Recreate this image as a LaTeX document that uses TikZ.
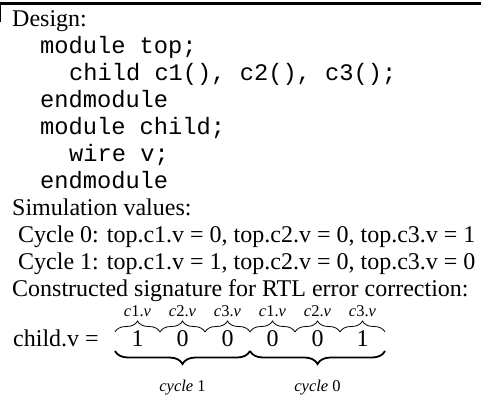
\documentclass[tikz,border=0pt]{standalone}
\usepackage{fontspec}
\setmainfont{Liberation Serif}
\setmonofont{Liberation Mono}
\usetikzlibrary{decorations.pathreplacing}
\begin{document}
\begin{tikzpicture}[x=1pt,y=-1pt,
  txt/.style={anchor=base west, inner sep=0pt, font=\fontsize{24}{24}\selectfont},
  code/.style={anchor=base west, inner sep=0pt, font=\fontsize{23.7}{24}\selectfont\ttfamily},
  lab/.style={anchor=base, inner sep=0pt, font=\fontsize{16.5}{16.5}\selectfont},
  digit/.style={anchor=base, inner sep=0pt, font=\fontsize{24}{24}\selectfont},
  upbrace/.style={decorate, decoration={brace, amplitude=11pt}, line width=0.8pt},
  downbrace/.style={decorate, decoration={brace, amplitude=13pt, mirror}, line width=1.8pt}]
\useasboundingbox (0,0) rectangle (481,405);
\draw[line width=3pt] (0,3.5) -- (481,3.5);
\draw[line width=1pt] (0.5,5) -- (0.5,22);

\node[txt] (design) at (12,26) {Design:};
\node[code] (l1) at (40,53) {module top;};
\node[code] (l2) at (69,80) {child c1(), c2(), c3();};
\node[code] (l3) at (40,107) {endmodule};
\node[code] (l4) at (40,134) {module child;};
\node[code] (l5) at (69,161) {wire v;};
\node[code] (l6) at (40,188) {endmodule};
\node[txt] (sim) at (12,215) {Simulation values:};
\node[txt] (cy0) at (18,242) {Cycle 0: top.c1.v = 0, top.c2.v = 0, top.c3.v = 1};
\node[txt] (cy1) at (18,269) {Cycle 1: top.c1.v = 1, top.c2.v = 0, top.c3.v = 0};
\node[txt] (cons) at (12,296) {Constructed signature for RTL error correction:};

\node[txt] (childv) at (13,346) {child.v =};
\foreach \i/\d in {1/1,2/0,3/0,4/0,5/0,6/1}{
  \node[digit] (d\i) at (92.5+45*\i,346) {\d};
}
\foreach \i in {0,...,6}{
  \coordinate (u\i) at (115+45*\i,332);
  \coordinate (w\i) at (115+45*\i,351);
}
\foreach \a/\b in {0/1,1/2,2/3,3/4,4/5,5/6}{
  \draw[upbrace] (u\a) -- (u\b);
}
\foreach \i/\c in {1/1,2/2,3/3,4/1,5/2,6/3}{
  \node[lab] (s\i) at (92.5+45*\i,316) {\textit{c}\c.\textit{v}};
}
\draw[downbrace] (w0) -- (w3);
\draw[downbrace] (w3) -- (w6);
\node[lab] (k1) at (182.5,391) {\textit{cycle} 1};
\node[lab] (k0) at (317.5,391) {\textit{cycle} 0};
\end{tikzpicture}
\end{document}
